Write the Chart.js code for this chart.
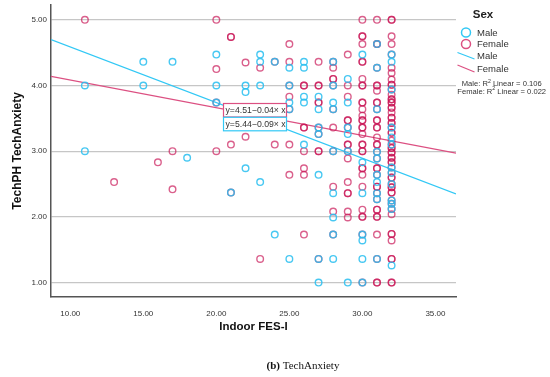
<!DOCTYPE html>
<html>
<head>
<meta charset="utf-8">
<script src="https://cdn.jsdelivr.net/npm/chart.js@4/dist/chart.umd.min.js"></script>
<style>
  html, body { margin:0; padding:0; background:#fff; }
  #wrap { width:550px; height:377px; position:relative; }
</style>
</head>
<body>
<div id="wrap"><canvas id="chart"></canvas></div>
<script>
// Indoor FES-I (x) vs TechPH TechAnxiety (y), by sex
const malePts = [
  [11,4.00],[11,3.00],
  [15,4.36],[15,4.00],
  [17,4.36],
  [18,2.90],
  [20,4.47],[20,4.00],[20,3.74],
  [21,2.37],
  [22,4.00],[22,3.90],[22,2.74],
  [23,4.47],[23,4.36],[23,4.00],[23,2.53],
  [24,4.36],[24,1.73],
  [25,4.27],[25,4.00],[25,3.74],[25,3.64],[25,1.36],
  [26,4.36],[26,4.27],[26,3.83],[26,3.74],[26,3.10],
  [27,3.83],[27,3.64],[27,3.36],[27,3.26],[27,2.64],[27,1.36],[27,1.00],
  [28,4.36],[28,4.00],[28,3.74],[28,3.64],[28,3.00],[28,2.36],[28,1.99],[28,1.73],[28,1.36],
  [29,4.10],[29,3.74],[29,3.36],[29,3.26],[29,3.00],[29,1.00],
  [30,4.47],[30,2.83],[30,2.36],[30,1.73],[30,1.64],[30,1.36],[30,1.00],
  [31,4.63],[31,4.27],[31,3.64],[31,2.99],[31,2.89],[31,2.64],[31,2.53],[31,2.36],[31,2.27],[31,1.36],
  [32,4.47],[32,4.36],[32,3.94],[32,3.36],[32,3.21],[32,3.10],[32,2.75],[32,2.67],[32,2.50],[32,2.25],[32,2.20],[32,2.12],[32,1.26]
];

const femalePts = [
  [11,5.00],
  [13,2.53],
  [16,2.83],
  [17,3.00],[17,2.42],
  [20,5.00],[20,4.25],[20,3.74],[20,3.00],
  [21,4.74],[21,4.74],[21,3.10],[21,2.37],
  [22,4.35],[22,3.22],
  [23,4.27],[23,1.36],
  [24,4.36],[24,3.10],
  [25,4.63],[25,4.36],[25,4.00],[25,3.83],[25,3.64],[25,3.10],[25,2.64],
  [26,4.00],[26,4.00],[26,3.36],[26,3.36],[26,3.00],[26,2.74],[26,2.64],[26,1.73],
  [27,4.36],[27,4.00],[27,4.00],[27,3.74],[27,3.74],[27,3.36],[27,3.26],[27,3.00],[27,3.00],[27,1.36],
  [28,4.36],[28,4.27],[28,4.10],[28,4.10],[28,4.00],[28,3.64],[28,3.36],[28,3.00],[28,2.46],[28,2.08],[28,1.73],
  [29,4.47],[29,4.00],[29,3.83],[29,3.47],[29,3.47],[29,3.36],[29,3.10],[29,3.10],[29,3.00],[29,2.89],
  [29,2.53],[29,2.36],[29,2.36],[29,2.08],[29,1.99],
  [30,5.00],[30,4.75],[30,4.75],[30,4.63],[30,4.36],[30,4.36],[30,4.10],[30,4.00],[30,4.00],[30,3.74],
  [30,3.74],[30,3.64],[30,3.54],[30,3.47],[30,3.47],[30,3.36],[30,3.36],[30,3.26],[30,3.10],[30,3.10],
  [30,3.00],[30,3.00],[30,2.74],[30,2.74],[30,2.64],[30,2.46],[30,2.11],[30,2.00],[30,2.00],[30,1.73],[30,1.00],
  [31,5.00],[31,4.63],[31,4.63],[31,4.27],[31,4.00],[31,4.00],[31,3.92],[31,3.74],[31,3.74],[31,3.64],
  [31,3.47],[31,3.47],[31,3.36],[31,3.36],[31,3.21],[31,3.10],[31,3.10],[31,2.99],[31,2.89],[31,2.74],
  [31,2.74],[31,2.64],[31,2.46],[31,2.46],[31,2.36],[31,2.27],[31,2.11],[31,2.11],[31,2.00],[31,2.00],
  [31,1.73],[31,1.36],[31,1.00],[31,1.00],
  [32,5.00],[32,5.00],[32,4.75],[32,4.63],[32,4.47],[32,4.27],[32,4.19],[32,4.09],[32,4.01],[32,4.01],
  [32,3.94],[32,3.86],[32,3.79],[32,3.79],[32,3.74],[32,3.74],[32,3.66],[32,3.66],[32,3.59],[32,3.51],
  [32,3.51],[32,3.43],[32,3.43],[32,3.36],[32,3.28],[32,3.28],[32,3.16],[32,3.10],[32,3.05],[32,3.05],
  [32,2.98],[32,2.98],[32,2.90],[32,2.90],[32,2.83],[32,2.83],[32,2.75],[32,2.67],[32,2.60],[32,2.60],
  [32,2.50],[32,2.45],[32,2.45],[32,2.37],[32,2.37],[32,2.25],[32,2.20],[32,2.12],[32,2.04],[32,1.74],
  [32,1.74],[32,1.64],[32,1.36],[32,1.36],[32,1.00],[32,1.00]
];

// fit lines, read at the two ends of the x axis
const fitX       = [8.68, 36.41];
const maleFitY   = [4.70, 2.35];
const femaleFitY = [4.14, 2.97];

const xTicks = [10, 15, 20, 25, 30, 35];
const yTicks = [1, 2, 3, 4, 5];

const maleEq   = 'y=5.44\u22120.09\u00d7 x';
const femaleEq = 'y=4.51\u22120.04\u00d7 x';
const maleR2   = '0.106';
const femaleR2 = '0.022';

const BLUE  = 'rgba(40,190,240,0.85)';
const PINK  = 'rgba(200,20,85,0.68)';
const BLUE_LINE = 'rgb(50,200,245)';
const PINK_LINE = 'rgb(220,80,130)';
const SANS  = '"Liberation Sans", Arial, sans-serif';

const toXY = pts => pts.map(([x,y]) => ({x, y}));
const fitLine = ys => fitX.map((x,i) => ({x, y: ys[i]}));

// legend, equation boxes, caption
const overlay = {
  id: 'overlay',
  afterDraw(chart){
    const ctx = chart.ctx;
    ctx.save();
    ctx.textBaseline = 'middle';

    // equation boxes
    const box = (y, color, text) => {
      ctx.fillStyle = '#fff';
      ctx.fillRect(223.5, y, 63, 13.5);
      ctx.strokeStyle = color; ctx.lineWidth = 1.2;
      ctx.strokeRect(223.5, y, 63, 13.5);
      ctx.fillStyle = '#333';
      ctx.font = '8.7px ' + SANS;
      ctx.textAlign = 'left';
      ctx.fillText(text, 225.5, y + 7);
    };
    box(103.5, PINK_LINE, femaleEq);
    box(117.3, BLUE_LINE, maleEq);

    // legend
    ctx.fillStyle = '#222';
    ctx.font = 'bold 11.5px ' + SANS;
    ctx.textAlign = 'center';
    ctx.fillText('Sex', 483, 15);

    ctx.lineWidth = 1.5;
    ctx.strokeStyle = BLUE_LINE;
    ctx.beginPath(); ctx.arc(466, 32.5, 4.5, 0, Math.PI*2); ctx.stroke();
    ctx.strokeStyle = PINK_LINE;
    ctx.beginPath(); ctx.arc(466, 44, 4.5, 0, Math.PI*2); ctx.stroke();

    ctx.lineWidth = 1.2;
    ctx.strokeStyle = BLUE_LINE;
    ctx.beginPath(); ctx.moveTo(457.5, 52.5); ctx.lineTo(474.5, 59); ctx.stroke();
    ctx.strokeStyle = PINK_LINE;
    ctx.beginPath(); ctx.moveTo(457.5, 65); ctx.lineTo(474.5, 72); ctx.stroke();

    ctx.fillStyle = '#333';
    ctx.font = '9.5px ' + SANS;
    ctx.textAlign = 'left';
    ctx.fillText('Male', 477, 33);
    ctx.fillText('Female', 477, 44.5);
    ctx.fillText('Male', 477, 56.5);
    ctx.fillText('Female', 477, 69.5);

    // R squared lines
    const r2 = (label, val, cy) => {
      const f = '7.6px ' + SANS, fs = '5.2px ' + SANS;
      ctx.font = f;
      const a = label + ': R', b = ' Linear = ' + val;
      const wa = ctx.measureText(a).width, wb = ctx.measureText(b).width;
      ctx.font = fs;
      const ws = ctx.measureText('2').width;
      let x = 501.7 - (wa + ws + wb) / 2;
      ctx.textAlign = 'left';
      ctx.font = f; ctx.fillText(a, x, cy); x += wa;
      ctx.font = fs; ctx.fillText('2', x, cy - 2.5); x += ws;
      ctx.font = f; ctx.fillText(b, x, cy);
    };
    r2('Male', maleR2, 84);
    r2('Female', femaleR2, 91.5);

    // caption
    ctx.fillStyle = '#111';
    ctx.textAlign = 'left';
    ctx.font = 'bold 11px "Liberation Serif", "Times New Roman", serif';
    const wb = ctx.measureText('(b)').width;
    ctx.font = '11px "Liberation Serif", "Times New Roman", serif';
    const wt = ctx.measureText(' TechAnxiety').width;
    let cx = 303 - (wb + wt) / 2;
    ctx.font = 'bold 11px "Liberation Serif", "Times New Roman", serif';
    ctx.fillText('(b)', cx, 366);
    ctx.font = '11px "Liberation Serif", "Times New Roman", serif';
    ctx.fillText(' TechAnxiety', cx + wb, 366);

    ctx.restore();
  }
};

new Chart(document.getElementById('chart'), {
  type: 'scatter',
  data: {
    datasets: [
      { label:'Male', data: toXY(malePts), borderColor: BLUE, backgroundColor:'transparent',
        pointRadius:3.3, pointBorderWidth:1.4, pointHoverRadius:3.3 },
      { label:'Female', data: toXY(femalePts), borderColor: PINK, backgroundColor:'transparent',
        pointRadius:3.3, pointBorderWidth:1.4, pointHoverRadius:3.3 },
      { type:'line', label:'Male fit', data: fitLine(maleFitY), borderColor: BLUE_LINE,
        borderWidth:1.2, pointRadius:0, fill:false },
      { type:'line', label:'Female fit', data: fitLine(femaleFitY), borderColor: PINK_LINE,
        borderWidth:1.2, pointRadius:0, fill:false }
    ]
  },
  options: {
    responsive: true,
    maintainAspectRatio: false,
    animation: false,
    events: [],
    layout: { padding: { left:0, right:94, top:3, bottom:35 } },
    plugins: { legend:{display:false}, tooltip:{enabled:false} },
    scales: {
      x: {
        type:'linear', min:8.68, max:36.41,
        afterBuildTicks: s => { s.ticks = xTicks.map(v => ({value:v})); },
        afterFit: s => { s.height = 45; s.paddingLeft = 0; s.paddingRight = 0; },
        grid: { display:false },
        border: { color:'#555', width:1.5 },
        ticks: { color:'#333', font:{family:SANS, size:8}, padding:4,
                 callback: v => Number(v).toFixed(2) },
        title: { display:true, text:'Indoor FES-I', color:'#111',
                 font:{family:SANS, size:11.5, weight:'bold'}, padding:{bottom:8} }
      },
      y: {
        min:0.78, max:5.23,
        afterBuildTicks: s => { s.ticks = yTicks.map(v => ({value:v})); },
        afterFit: s => { s.width = 51; s.paddingTop = 0; s.paddingBottom = 0; },
        grid: { color:'#c6c6c6', lineWidth:1.2, drawTicks:false },
        border: { color:'#555', width:1.5 },
        ticks: { color:'#333', font:{family:SANS, size:8}, padding:4,
                 callback: v => Number(v).toFixed(2) },
        title: { display:true, text:'TechPH TechAnxiety', color:'#111',
                 font:{family:SANS, size:12, weight:'bold'}, padding:{top:10} }
      }
    }
  },
  plugins: [overlay]
});
</script>
</body>
</html>
